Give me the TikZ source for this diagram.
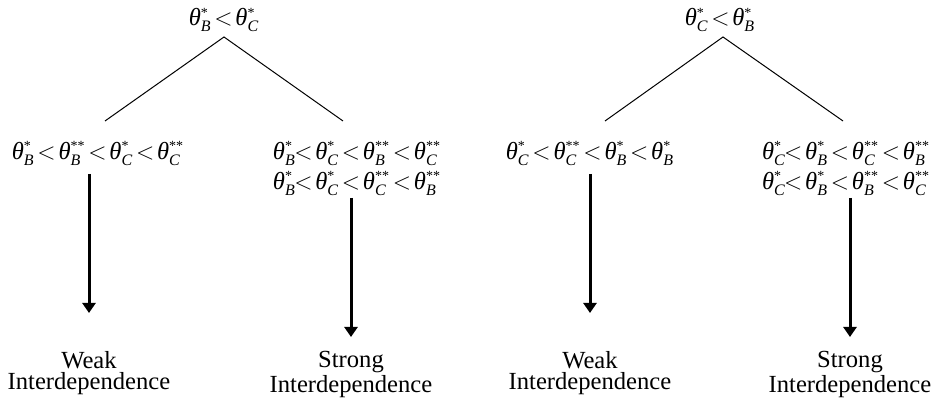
\documentclass[tikz,border=0pt]{standalone}
\usepackage{amsmath}
\usepackage{fontspec}
\setmainfont{Liberation Serif}
\usetikzlibrary{arrows.meta}

% theta with subscript and stars
\newcommand{\thv}[2]{\textit{θ}$^{\text{\fontsize{7}{7}\selectfont #2}}_{\text{\fontsize{8}{8}\selectfont\itshape #1}}$}
% less-than with and without the gap in front
\newcommand{\lt}{\hspace{1.4pt}$<$\hspace{1.4pt}}
\newcommand{\ltt}{\kern-0.8pt$<$\hspace{1.4pt}}

\begin{document}
\begin{tikzpicture}[x=0.5pt, y=-0.5pt, >={Triangle[width=6.5pt, length=5pt]},
    cond/.style={inner sep=0pt, font=\fontsize{12.3}{15}\selectfont, align=center},
    outcome/.style={inner sep=0pt, anchor=north, font=\fontsize{12.3}{10.5}\selectfont, align=center},
    branch/.style={line width=0.5pt},
    flow/.style={->, line width=1.5pt}]

    \useasboundingbox (0,0) rectangle (937,399);

    % Nodes
    \node (rootl) [cond] at (224,20) {\thv{B}{*}\lt\thv{C}{*}};
    \node (rootr) [cond] at (720,20) {\thv{C}{*}\lt\thv{B}{*}};

    \node (leafa) [cond, anchor=north] at (98,141) {\thv{B}{*}\lt\thv{B}{**}\lt\thv{C}{*}\lt\thv{C}{**}};
    \node (leafb) [cond, anchor=north] at (357,141) {\thv{B}{*}\ltt\thv{C}{*}\lt\thv{B}{**}\lt\thv{C}{**}\\
        \thv{B}{*}\ltt\thv{C}{*}\lt\thv{C}{**}\lt\thv{B}{**}};
    \node (leafc) [cond, anchor=north] at (590,141) {\thv{C}{*}\lt\thv{C}{**}\lt\thv{B}{*}\lt\thv{B}{*}};
    \node (leafd) [cond, anchor=north] at (846,141) {\thv{C}{*}\ltt\thv{B}{*}\lt\thv{C}{**}\lt\thv{B}{**}\\
        \thv{C}{*}\ltt\thv{B}{*}\lt\thv{B}{**}\lt\thv{C}{**}};

    \node (weakl) [outcome] at (89,351) {Weak\\Interdependence};
    \node (strongl) [outcome] at (351,351) {Strong\\Interdependence};
    \node (weakr) [outcome] at (590,351) {Weak\\Interdependence};
    \node (strongr) [outcome] at (850,351) {Strong\\Interdependence};

    \coordinate (apexl) at (224,37);
    \coordinate (forka) at (105,121);
    \coordinate (forkb) at (343,121);
    \coordinate (apexr) at (723,37);
    \coordinate (forkc) at (605,121);
    \coordinate (forkd) at (843,121);

    % Links
    \draw[branch] (forka) -- (apexl) -- (forkb);
    \draw[branch] (forkc) -- (apexr) -- (forkd);
    \draw[flow, shorten <=4pt, shorten >=19pt] (leafa.south -| weakl.north) -- (weakl.north);
    \draw[flow, shorten <=1pt, shorten >=7pt] (leafb.south -| strongl.north) -- (strongl.north);
    \draw[flow, shorten <=4pt, shorten >=19pt] (leafc.south -| weakr.north) -- (weakr.north);
    \draw[flow, shorten <=1pt, shorten >=7pt] (leafd.south -| strongr.north) -- (strongr.north);
\end{tikzpicture}
\end{document}
